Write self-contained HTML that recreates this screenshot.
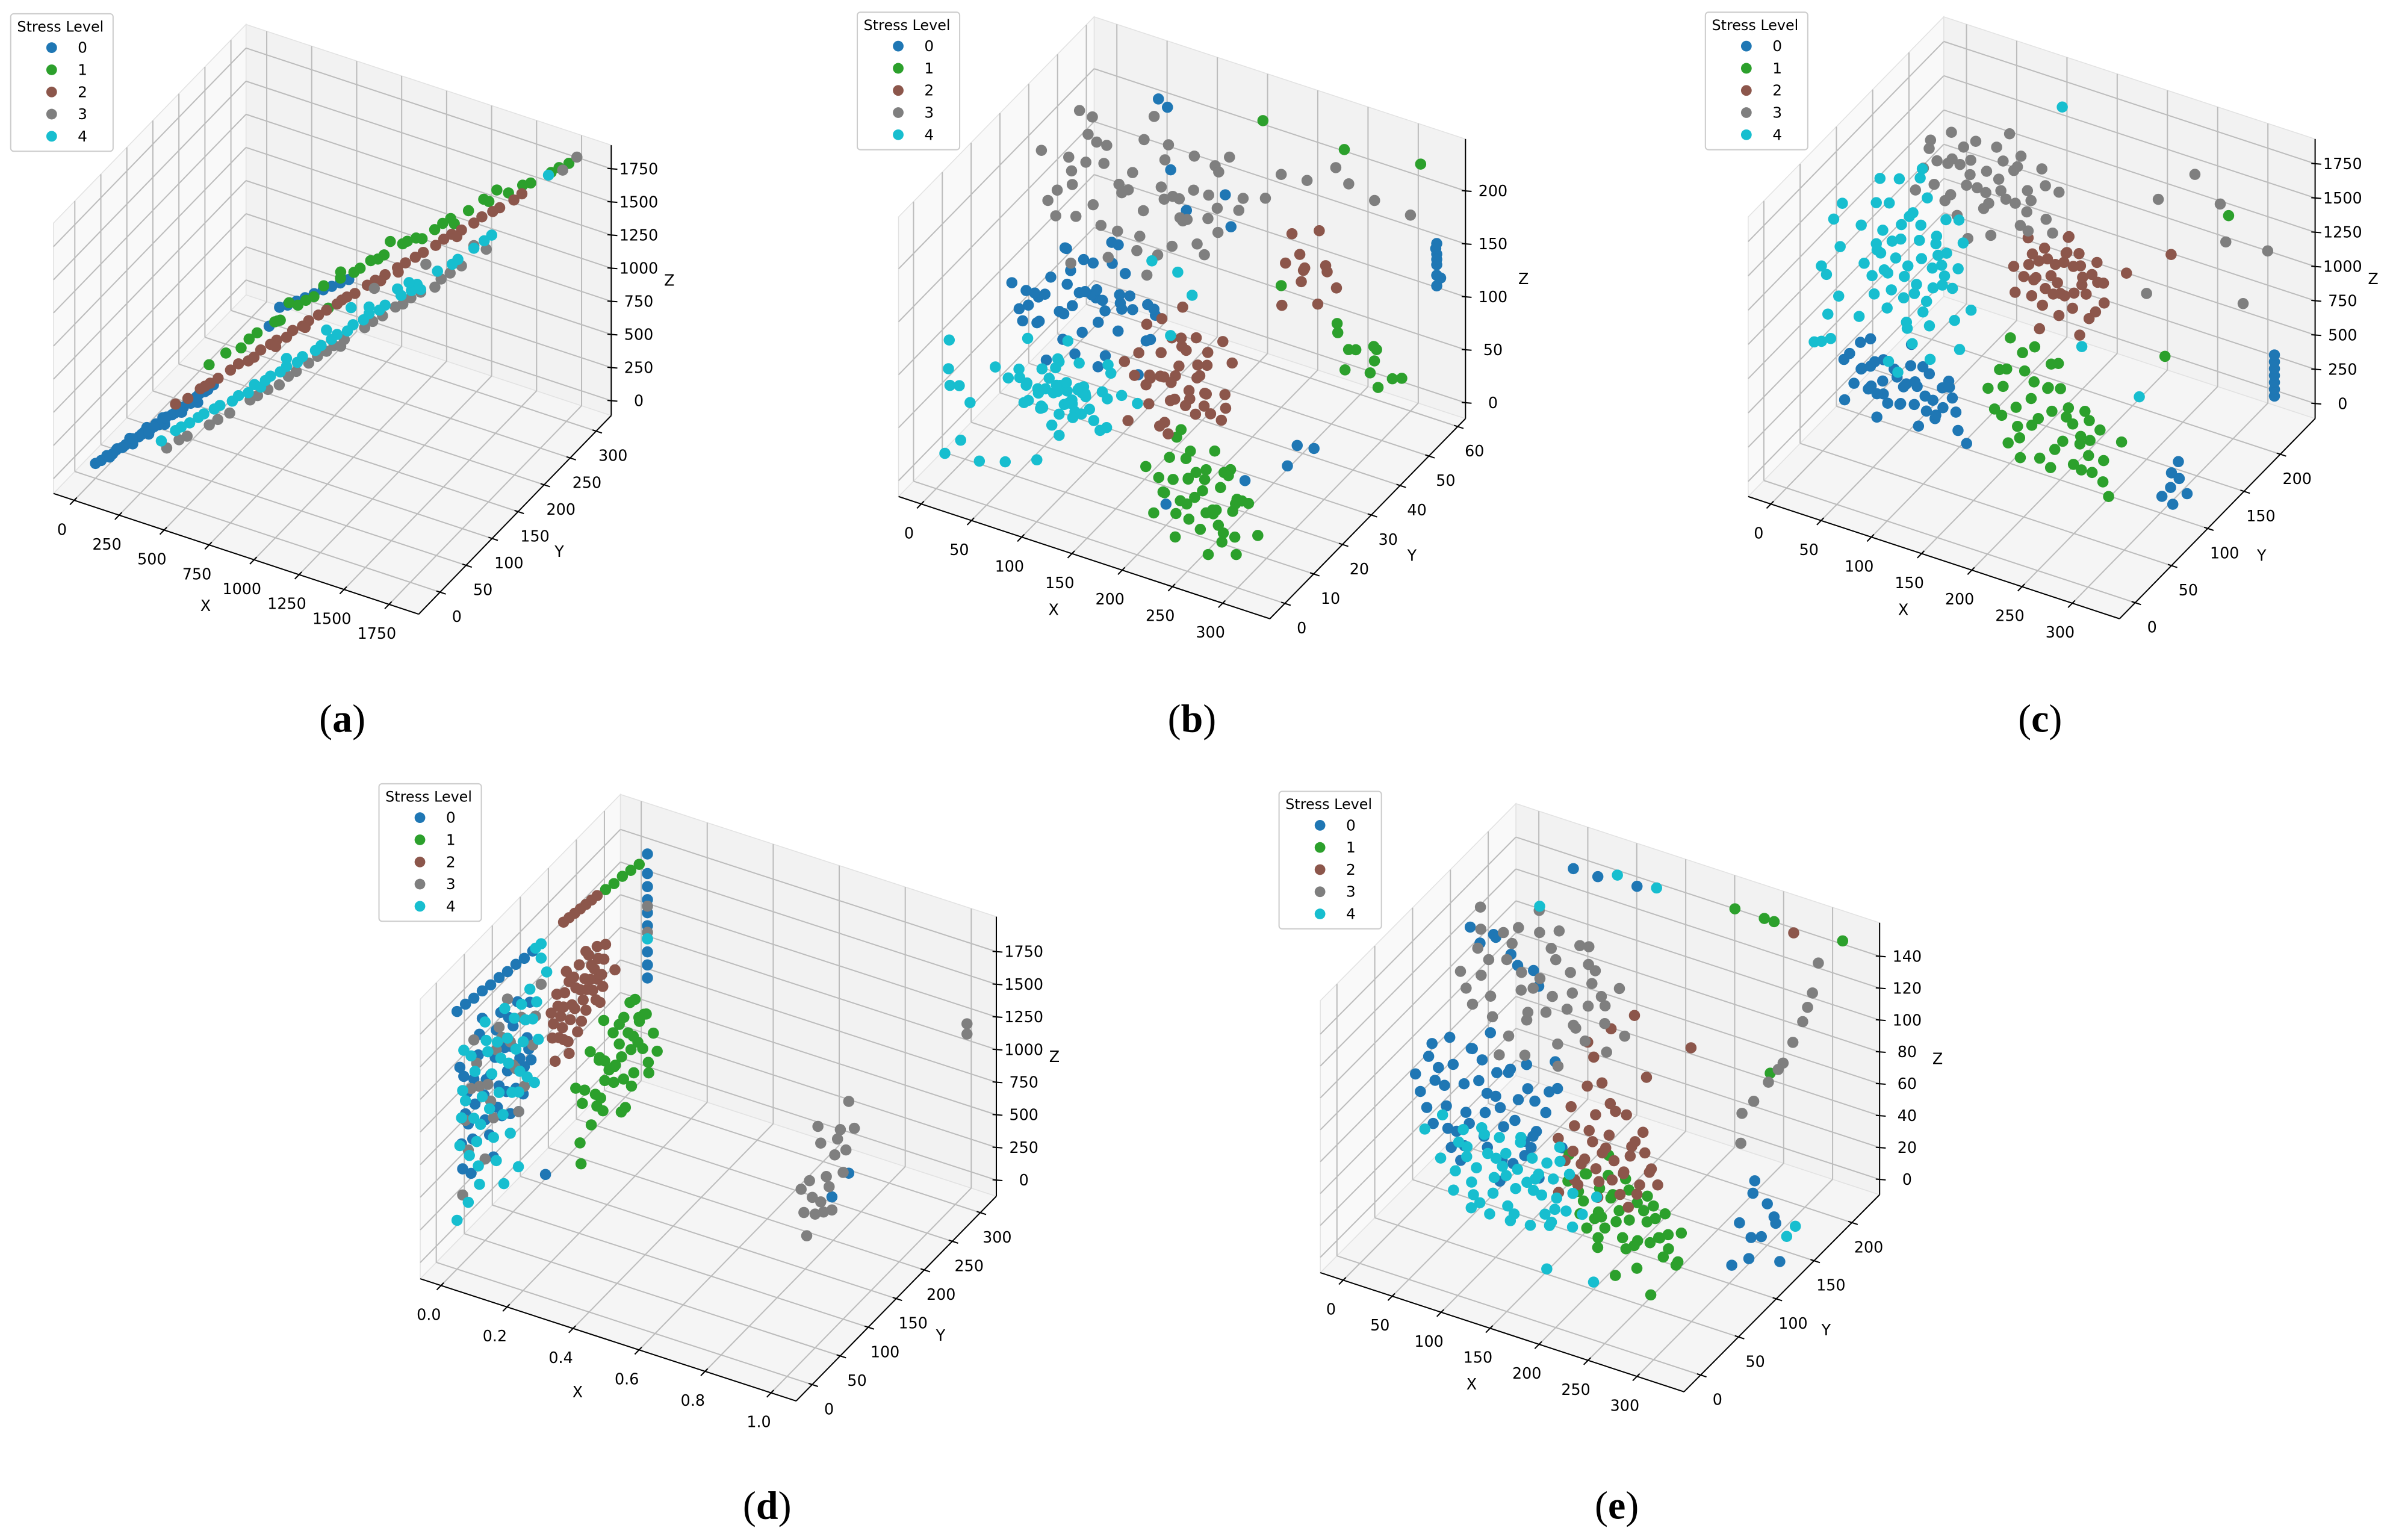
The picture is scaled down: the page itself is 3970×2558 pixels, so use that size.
<!DOCTYPE html>
<html><head><meta charset="utf-8">
<style>
html,body{margin:0;padding:0;background:#fff;}
svg{display:block;}
text{font-family:"DejaVu Sans","Liberation Sans",sans-serif;}
.cap{font-family:"Liberation Serif","DejaVu Serif",serif;}
</style></head>
<body>
<svg id="fig" xmlns="http://www.w3.org/2000/svg" width="3970" height="2558" viewBox="0 0 1564 1008" preserveAspectRatio="none">
<rect x="0" y="0" width="1564" height="1008" fill="#ffffff"/>
</svg>
<script>
// ---------- Data: panel (a) ----------
const aStress0=[[0,0,0],[20,4,15],[40,8,45],[60,12,50],[80,14,90],[100,18,95],[120,22,120],[140,24,150],[160,28,160],[180,32,190],[200,36,200],[220,40,235],[240,44,240],[260,46,280],[280,50,290],[300,54,320],[320,58,330],[340,60,370],[360,64,380],[380,68,420],[400,72,430],[430,78,470],[120,30,80],[180,40,140],[240,50,200],[300,62,270],[360,72,330],[150,14,200],[210,26,260],[270,36,320],[330,46,390],[300,250,300],[330,255,310],[360,262,325],[390,268,340],[420,275,355],[450,282,370],[480,288,385],[510,294,400],[540,300,415],[560,140,720],[50,10,30],[110,20,110],[170,30,175],[230,42,225],[290,52,300],[350,62,360],[410,74,440],[70,16,70],[130,26,140],[190,36,180],[250,48,260],[310,56,300],[370,66,400],[90,20,80],[210,40,210]];
const aStress1=[[400,80,600],[450,95,650],[520,100,700],[580,110,800],[620,130,820],[680,120,900],[720,140,950],[780,150,1000],[820,155,1080],[870,170,1100],[930,175,1150],[980,190,1200],[1040,195,1250],[1100,210,1300],[1160,215,1350],[1220,230,1380],[1280,240,1450],[1350,250,1500],[1420,265,1540],[1500,275,1600],[1580,290,1650],[1650,305,1700],[1720,315,1760],[700,130,1000],[900,160,1200],[1060,200,1340],[1300,240,1420],[1450,270,1620],[860,150,950],[1150,230,1280],[550,105,760],[650,125,860],[750,145,980],[950,180,1170],[1020,190,1230],[1120,212,1320],[1250,235,1420],[1400,262,1560],[1550,285,1640],[1680,310,1730]];
const aStress2=[[300,50,380],[380,70,450],[450,80,520],[520,95,600],[600,110,680],[660,120,740],[720,130,800],[780,140,860],[850,150,930],[920,165,1000],[990,180,1060],[1060,190,1130],[1130,205,1190],[1200,215,1260],[1270,230,1330],[1340,240,1390],[1410,255,1460],[1480,265,1520],[560,100,620],[700,125,760],[880,160,950],[1050,185,1100],[1240,225,1290],[1380,250,1420],[1530,275,1560],[340,60,400],[420,75,490],[490,90,560],[640,115,720],[760,135,830],[820,145,900],[950,170,1020],[1020,185,1090],[1100,200,1160],[1170,210,1230],[1300,235,1360],[1450,262,1490],[1560,280,1600],[900,162,980],[660,118,700],[580,104,640],[400,72,470],[1320,238,1340],[1110,198,1140],[760,140,800]];
const aStress3=[[280,40,80],[350,55,140],[430,70,200],[500,85,260],[570,100,330],[640,110,400],[710,125,470],[780,140,540],[850,150,620],[920,160,700],[990,175,760],[1060,185,840],[1130,200,900],[1200,210,980],[1270,225,1050],[1340,240,1120],[1420,260,1200],[1200,220,1150],[1000,190,1000],[800,150,560],[1750,320,1800],[1700,310,1720],[1380,250,1250],[320,50,120],[460,76,230],[600,104,360],[740,130,500],[880,154,660],[1020,180,800],[1160,205,940],[1300,232,1080],[900,160,640],[680,118,420],[1100,196,880],[1250,220,1000]];
const aStress4=[[250,40,120],[300,50,180],[350,60,220],[400,70,270],[460,80,320],[520,95,360],[580,105,430],[640,115,480],[700,125,540],[760,135,600],[820,150,650],[880,160,720],[940,170,780],[1000,180,850],[1060,190,900],[1120,200,960],[1180,210,1030],[1250,225,1100],[1320,240,1160],[1380,250,1230],[1450,260,1320],[1650,300,1700],[900,180,850],[1100,200,1000],[600,110,400],[1200,210,1000],[320,54,200],[380,66,250],[440,76,300],[500,90,330],[560,100,380],[620,112,450],[680,120,510],[740,132,560],[800,146,620],[860,156,690],[920,166,740],[980,176,810],[1040,186,870],[1160,206,990],[1300,236,1130],[1420,256,1280],[700,125,600],[850,150,780],[1000,180,900],[1150,205,1050]];
const aXTicks=[0,250,500,750,1000,1250,1500,1750];
const aYTicks=[0,50,100,150,200,250,300];
const aZTicks=[0,250,500,750,1000,1250,1500,1750];
const aXLabels=['0','250','500','750','1000','1250','1500','1750'];
const aYLabels=['0','50','100','150','200','250','300'];
const aZLabels=['0','250','500','750','1000','1250','1500','1750'];

// ---------- Data: panel (b) ----------
const bStress0=[[0,30,60],[10,32,80],[20,28,70],[30,35,90],[40,30,55],[50,38,75],[60,33,95],[70,40,65],[80,36,85],[90,42,70],[100,38,50],[-5,28,100],[15,40,105],[35,26,45],[55,44,110],[75,30,40],[25,36,120],[45,42,60],[65,28,75],[85,34,100],[5,34,50],[95,30,80],[30,44,85],[60,40,125],[20,25,95],[52,59,205],[61,59,200],[329,59,115],[329,59,125],[329,59,135],[329,59,145],[329,59,155],[330,60,120],[328,59,150],[329,59,140],[279,28,35],[290,30,30],[275,26,20],[250,20,15],[200,10,5],[150,50,140],[120,45,160],[90,50,175],[130,55,150],[5,36,70],[12,30,90],[22,42,60],[28,30,110],[38,34,75],[48,26,95],[58,36,60],[68,32,105],[78,40,80],[88,28,60],[98,34,90],[8,26,85],[18,38,50],[32,40,100],[42,32,115],[52,30,45],[62,44,85],[72,36,120],[82,30,95],[92,44,55],[102,40,75],[110,36,60],[115,30,45],[-8,34,75],[45,36,85]];
const bStress1=[[200,3,60],[210,6,30],[220,2,45],[230,8,70],[240,4,20],[250,6,55],[260,3,35],[270,8,65],[280,2,25],[290,5,50],[300,7,15],[215,10,80],[235,1,10],[255,9,5],[275,4,75],[245,7,40],[225,5,90],[265,2,0],[285,9,35],[205,4,15],[295,1,60],[240,10,50],[260,6,85],[230,3,25],[270,5,5],[270,45,100],[280,48,70],[290,42,90],[300,46,60],[310,44,80],[320,50,50],[285,40,110],[305,47,45],[315,43,95],[295,49,75],[275,46,55],[325,45,65],[156,59,217],[237,59,215],[313,59,225],[200,50,100],[210,4,50],[220,8,20],[230,2,60],[240,6,35],[250,3,70],[260,8,45],[270,2,40],[280,6,10],[235,5,30],[255,7,25],[245,2,65],[265,9,55],[225,9,40],[275,7,30],[290,3,5],[215,6,65],[285,5,50],[250,10,15],[260,1,25],[240,3,80]];
const bStress2=[[130,20,90],[140,24,60],[150,18,110],[160,22,80],[170,26,100],[180,20,70],[190,24,120],[200,18,90],[210,22,60],[220,26,100],[145,16,50],[165,28,130],[185,16,50],[205,28,110],[175,22,85],[155,24,95],[195,20,75],[215,18,80],[135,26,110],[225,22,70],[160,18,65],[190,28,95],[170,20,45],[180,24,105],[150,22,75],[210,48,130],[220,50,110],[230,46,150],[240,52,120],[250,48,140],[215,45,100],[235,51,160],[225,49,125],[245,47,105],[205,52,145],[255,50,115],[232,47,135],[155,20,85],[165,24,70],[175,18,95],[185,22,60],[195,26,90],[205,20,100],[160,26,105],[170,22,60],[180,28,80],[190,18,110],[200,24,70],[210,20,85],[150,26,120],[215,24,50],[140,20,80],[230,20,90],[185,26,75],[175,24,115],[165,20,40],[195,22,55]];
const bStress3=[[0,42,150],[10,45,120],[20,40,180],[30,44,140],[40,38,200],[50,46,160],[60,42,130],[70,40,175],[80,44,150],[90,48,190],[100,42,120],[110,46,165],[120,40,140],[130,44,185],[140,48,200],[150,42,170],[-10,40,190],[5,48,210],[25,38,100],[45,44,95],[75,46,210],[95,40,105],[115,38,200],[135,46,120],[155,44,210],[165,40,190],[35,42,230],[85,46,235],[55,40,215],[-15,44,130],[65,48,110],[105,44,220],[125,42,160],[145,40,150],[175,44,180],[185,42,200],[160,46,220],[200,50,205],[240,55,210],[270,58,180],[300,60,170],[15,42,160],[35,46,175],[55,38,145],[75,42,190],[95,46,160],[115,42,180],[135,40,170],[0,46,170],[25,44,205],[65,44,165],[85,40,125],[105,48,140],[125,46,210],[145,44,185],[45,40,215],[10,38,140],[160,42,160],[190,48,185],[220,52,200],[250,56,195]];
const bStress4=[[0,25,20],[10,28,10],[20,22,35],[30,26,0],[40,24,25],[50,28,15],[60,22,40],[70,26,5],[80,24,30],[90,28,20],[100,22,10],[110,26,35],[-10,24,30],[5,30,45],[25,20,50],[45,30,55],[65,20,0],[85,30,45],[105,24,60],[35,24,5],[55,26,30],[75,22,20],[15,26,15],[95,26,0],[120,28,25],[0,8,60],[-5,6,80],[5,10,40],[-10,8,100],[10,5,20],[-15,10,50],[0,3,10],[20,8,-5],[40,10,-5],[60,14,-8],[100,40,120],[120,42,110],[140,40,100],[130,36,70],[30,25,15],[35,27,25],[40,23,10],[45,25,20],[50,27,5],[55,23,30],[60,25,15],[65,27,25],[70,23,10],[75,25,35],[42,28,40],[52,22,0],[62,28,45],[72,22,30],[48,25,28],[58,27,8],[38,22,30],[68,28,18],[78,26,12],[82,22,40],[25,28,28],[20,25,5],[88,24,10],[35,30,35],[55,30,12],[65,20,20],[45,20,35],[85,28,25],[30,20,20],[50,24,48]];
const bXTicks=[0,50,100,150,200,250,300];
const bYTicks=[0,10,20,30,40,50,60];
const bZTicks=[0,50,100,150,200];
const bXLabels=['0','50','100','150','200','250','300'];
const bYLabels=['0','10','20','30','40','50','60'];
const bZLabels=['0','50','100','150','200'];

// ---------- Data: panel (c) ----------
const cStress0=[[0,80,100],[10,90,300],[20,85,200],[30,92,400],[40,78,250],[50,88,150],[60,82,350],[70,94,220],[80,86,450],[90,80,180],[100,90,300],[110,84,120],[-5,86,350],[15,95,500],[35,76,80],[55,96,550],[75,78,100],[95,92,400],[25,82,250],[45,90,320],[65,86,190],[85,84,280],[105,88,220],[5,80,450],[120,82,60],[305,95,50],[310,100,100],[315,105,150],[320,98,200],[325,102,80],[312,108,250],[318,92,40],[308,104,180],[326,221,150],[326,221,200],[326,221,250],[326,221,300],[326,221,350],[326,221,400],[326,221,450],[5,86,200],[15,82,350],[25,90,150],[35,84,300],[45,86,400],[55,80,200],[65,90,300],[75,84,500],[85,88,150],[95,84,250],[10,88,500],[30,80,450],[50,92,250],[70,80,400],[90,90,350],[20,88,350],[40,84,150],[60,88,450],[80,82,200],[100,86,400]];
const cStress1=[[150,70,600],[160,75,400],[170,68,800],[180,72,300],[190,78,700],[200,70,500],[210,74,900],[220,76,350],[230,70,650],[240,74,200],[250,72,450],[260,76,150],[165,80,950],[185,66,200],[205,80,100],[225,66,800],[245,78,550],[265,70,350],[175,74,500],[195,72,1000],[215,68,600],[235,80,400],[255,68,250],[160,72,750],[280,74,500],[270,70,100],[310,180,1650],[290,120,900],[155,72,450],[165,70,650],[175,76,350],[185,72,800],[195,68,450],[205,76,700],[215,72,300],[225,74,550],[235,70,250],[245,72,650],[170,70,250],[190,74,600],[210,70,750],[230,76,500],[250,70,350],[180,76,900],[200,72,200],[220,70,950],[240,72,400],[260,72,550]];
const cStress2=[[130,135,900],[140,140,1100],[150,145,800],[160,138,1200],[170,142,950],[180,136,1300],[190,144,1050],[200,140,850],[210,138,1150],[135,146,1250],[155,134,700],[175,146,1350],[195,134,750],[145,140,1000],[165,142,1150],[185,138,900],[205,144,1250],[150,136,1050],[170,140,800],[190,142,1200],[215,140,1000],[125,140,1050],[230,150,1200],[260,170,1300],[180,140,1400],[135,140,1000],[145,138,1200],[155,142,950],[165,136,1100],[175,144,1250],[185,140,1000],[195,138,1150],[205,142,900],[140,144,850],[160,134,1300],[180,146,1150],[200,136,1050],[150,140,1150],[170,138,1050],[190,140,1300],[210,146,1100],[160,146,900],[180,134,1000],[200,144,1150],[175,140,1200]];
const cStress3=[[20,150,1300],[30,155,1600],[40,148,1400],[50,158,1750],[60,152,1200],[70,156,1500],[80,150,1800],[90,154,1350],[100,160,1650],[110,150,1450],[120,156,1250],[130,152,1550],[140,158,1700],[150,150,1400],[160,154,1600],[45,160,1500],[75,146,1100],[105,162,1850],[135,146,1300],[85,158,1550],[95,150,1150],[65,154,1700],[115,156,1400],[125,150,1800],[55,150,1350],[262,200,1727],[300,190,1380],[280,210,1500],[240,180,1600],[320,220,1200],[310,200,900],[250,150,1100],[25,154,1450],[35,150,1700],[45,156,1250],[55,152,1600],[65,158,1400],[75,150,1650],[85,154,1300],[95,158,1750],[105,150,1500],[115,154,1650],[125,158,1350],[135,150,1500],[145,156,1600],[155,152,1300],[60,156,1550],[80,152,1450],[100,154,1550],[120,152,1700],[40,152,1550],[90,150,1450]];
const cStress4=[[0,100,600],[10,104,900],[20,96,1200],[30,100,1500],[40,106,800],[50,98,1100],[60,102,1400],[70,100,700],[80,104,1000],[90,96,1300],[100,100,600],[110,102,900],[15,108,1600],[35,92,400],[55,108,1700],[75,94,500],[95,106,1500],[45,100,1000],[65,96,1200],[25,104,700],[85,100,1100],[105,98,1400],[5,96,1300],[60,104,1800],[40,98,300],[50,104,500],[70,96,900],[30,98,1000],[20,102,1100],[80,98,1250],[0,55,1150],[5,50,900],[10,60,1350],[-5,45,700],[0,65,1500],[15,40,800],[5,70,1600],[10,58,1000],[0,48,1250],[-10,62,600],[130,200,1900],[200,130,700],[250,140,400],[15,100,800],[25,98,1300],[35,102,1100],[45,96,1400],[55,100,900],[65,104,1600],[75,98,1000],[85,102,1500],[95,100,800],[20,96,1500],[30,104,1200],[40,100,1700],[50,96,700],[60,100,1300],[70,104,1100],[80,96,1400],[90,104,1000],[100,98,1200],[45,104,600],[55,98,1500],[35,96,900],[25,100,1000],[65,98,800],[75,102,1300],[85,96,1200],[15,104,1100],[5,100,1000],[60,96,1000],[40,102,1250],[50,100,1450]];
const cXTicks=[0,50,100,150,200,250,300];
const cYTicks=[0,50,100,150,200];
const cZTicks=[0,250,500,750,1000,1250,1500,1750];
const cXLabels=['0','50','100','150','200','250','300'];
const cYLabels=['0','50','100','150','200'];
const cZLabels=['0','250','500','750','1000','1250','1500','1750'];

// ---------- Data: panel (d) ----------
const dStress0=[[0,10,600],[0,20,900],[0,30,1200],[0,40,1500],[0,50,800],[0,60,1100],[0,70,1400],[0,80,700],[0,90,1000],[0,100,1300],[0,110,600],[0,120,900],[0,5,1400],[0,25,500],[0,45,1600],[0,65,450],[0,85,1200],[0,105,800],[0,125,1100],[0,15,1000],[0,35,700],[0,55,1300],[0,75,950],[0,95,650],[0,130,1350],[0,0,1850],[0,15,1840],[0,30,1820],[0,45,1810],[0,60,1790],[0,75,1780],[0,90,1760],[0,105,1750],[0,120,1730],[0,135,1720],[0.025,325,700],[0.025,325,800],[0.025,325,900],[0.025,325,1000],[0.025,325,1100],[0.025,325,1300],[0.025,325,1400],[0.025,325,1500],[0.025,325,1650],[0.025,325,1200],[1,80,900],[1,110,950],[0.2,40,590],[0,8,800],[0,18,1150],[0,28,750],[0,38,1350],[0,48,1000],[0,58,650],[0,68,1200],[0,78,1500],[0,88,850],[0,98,1150],[0,108,1450],[0,118,700],[0,128,1000],[0,12,1300],[0,32,1000],[0,52,1100],[0,72,800],[0,92,1400],[0,112,1000],[0,132,900]];
const dStress1=[[0.02,200,400],[0.03,220,600],[0.04,240,300],[0.05,260,500],[0.06,280,200],[0.03,300,650],[0.05,210,100],[0.07,230,450],[0.02,250,700],[0.04,270,350],[0.06,290,550],[0.08,310,250],[0.03,320,450],[0.05,190,50],[0.07,215,300],[0.02,235,200],[0.04,255,600],[0.06,275,400],[0.08,295,150],[0.03,305,300],[0.09,240,100],[0.05,225,550],[0.04,285,700],[0.06,265,0],[0.07,180,-50],[0,265,1620],[0,280,1600],[0,295,1590],[0,310,1570],[0,325,1550],[0.03,210,350],[0.04,230,500],[0.05,250,250],[0.06,270,550],[0.07,290,350],[0.04,310,500],[0.05,220,200],[0.06,245,400],[0.03,265,300],[0.05,285,450],[0.07,300,200],[0.04,200,300],[0.06,225,150],[0.05,260,650],[0.03,280,600],[0.08,250,300],[0.06,315,350],[0.04,240,450],[0.07,270,150],[0.05,295,550]];
const dStress2=[[0,170,900],[0,180,1100],[0,190,800],[0,200,1200],[0,210,950],[0,220,1050],[0,230,850],[0,240,1150],[0,250,1000],[0,260,900],[0,175,700],[0,195,1300],[0,215,750],[0,235,1250],[0,255,800],[0,205,1000],[0,225,950],[0,245,1100],[0,185,1000],[0,265,1200],[0,200,650],[0,230,1300],[0.02,270,1000],[0,190,1050],[0,250,1250],[0,190,1700],[0,200,1690],[0,210,1680],[0,220,1670],[0,230,1660],[0,240,1650],[0,250,1640],[0,172,1000],[0,182,850],[0,192,1150],[0,202,900],[0,212,1100],[0,222,800],[0,232,1000],[0,242,950],[0,252,1150],[0,178,1200],[0,198,750],[0,218,1250],[0,238,1050],[0,258,1000],[0,208,1200],[0,228,1100],[0,188,900],[0,248,850],[0,168,1100],[0,262,1100]];
const dStress3=[[0,20,700],[0,40,1100],[0,60,900],[0,80,1300],[0,100,1000],[0,120,750],[0,140,1200],[0,30,1500],[0,50,500],[0,90,1550],[0,110,600],[0,70,1250],[0,150,1400],[0,10,400],[1,30,1000],[1,40,1200],[1,50,900],[1,60,1400],[1,70,1100],[1,80,800],[1,90,1300],[1,100,1000],[1,110,1500],[1,45,1050],[1,65,850],[1,85,1200],[1,55,1550],[1,75,1000],[1,95,1350],[1,35,800],[1,105,1150],[1,60,950],[1,120,1250],[1,25,1200],[1,321,1168],[1,321,1090],[0.025,325,1250],[0.025,325,1050],[0,15,950],[0,35,1300],[0,55,1050],[0,75,1400],[0,95,1200],[0,115,1300],[0,135,1000],[0,25,1150],[0,65,750],[0,105,950]];
const dStress4=[[0,5,800],[0,15,1100],[0,25,1400],[0,35,700],[0,45,1000],[0,55,1300],[0,65,600],[0,75,900],[0,85,1500],[0,95,500],[0,105,1100],[0,115,1400],[0,125,800],[0,135,1200],[0,145,1000],[0,10,1200],[0,30,900],[0,50,1550],[0,70,400],[0,90,1250],[0,110,750],[0,130,1450],[0,20,300],[0,40,350],[0.04,60,300],[0.05,80,350],[0,0,250],[0,150,1600],[0,160,1450],[0.025,325,1000],[0,140,1720],[0,150,1710],[0,8,1000],[0,22,650],[0,32,1250],[0,42,800],[0,52,1400],[0,62,1100],[0,72,1300],[0,82,700],[0,92,1050],[0,102,1350],[0,112,900],[0,122,1250],[0,142,1300],[0,12,1500],[0,38,500],[0,58,850],[0,78,1150],[0,98,800],[0,118,1100],[0,138,700]];
const dXTicks=[0,0.2,0.4,0.6,0.8,1.0];
const dYTicks=[0,50,100,150,200,250,300];
const dZTicks=[0,250,500,750,1000,1250,1500,1750];
const dXLabels=['0.0','0.2','0.4','0.6','0.8','1.0'];
const dYLabels=['0','50','100','150','200','250','300'];
const dZLabels=['0','250','500','750','1000','1250','1500','1750'];

// ---------- Data: panel (e) ----------
const eStress0=[[0,80,60],[10,84,40],[20,78,80],[30,82,30],[40,86,70],[50,80,50],[60,84,90],[70,78,40],[80,82,65],[90,86,30],[100,80,75],[110,84,45],[120,78,60],[130,82,85],[140,86,50],[15,76,95],[35,88,20],[55,76,100],[75,88,15],[95,76,95],[115,88,25],[25,82,55],[45,80,35],[65,84,70],[85,80,55],[105,82,40],[-5,80,70],[140,80,90],[130,90,100],[30,120,140],[40,125,145],[50,115,150],[60,122,138],[70,118,135],[80,126,130],[20,120,148],[90,120,125],[45,224,140],[70,224,140],[110,224,142],[320,100,10],[325,110,20],[330,90,30],[335,105,45],[328,95,55],[340,115,5],[322,85,40],[332,120,25],[326,100,60],[318,80,15],[338,110,35],[5,82,50],[15,80,70],[25,84,40],[35,78,85],[45,82,55],[55,86,75],[65,80,45],[75,84,85],[85,78,35],[95,82,60],[105,86,80],[115,80,55],[125,84,70],[20,86,65],[40,76,45],[60,88,55],[80,76,75],[100,88,45],[120,76,80],[30,80,100],[50,84,95],[70,82,110],[90,80,90],[110,78,100],[10,78,85]];
const eStress1=[[170,55,50],[180,58,30],[190,52,60],[200,56,20],[210,60,45],[220,54,35],[230,58,55],[240,52,25],[250,56,40],[260,60,30],[270,54,50],[280,58,20],[175,50,70],[195,62,10],[215,50,65],[235,62,5],[255,50,60],[275,62,15],[185,56,40],[205,54,35],[225,56,25],[245,58,45],[265,52,35],[285,56,40],[230,40,10],[200,70,65],[260,48,0],[210,224,148],[240,224,148],[250,224,148],[320,224,150],[280,180,80],[180,56,45],[190,54,25],[200,58,50],[210,52,30],[220,58,40],[230,54,20],[240,56,50],[250,60,25],[260,54,45],[270,58,35],[185,60,55],[205,50,40],[225,60,60],[245,50,30],[265,58,20],[195,58,30],[215,56,50],[235,52,40],[255,58,50],[275,52,30]];
const eStress2=[[130,94,50],[140,98,70],[150,90,30],[160,96,60],[170,92,40],[180,98,80],[190,90,50],[200,96,20],[210,92,65],[220,98,45],[135,88,20],[155,100,85],[175,88,25],[195,100,75],[215,88,35],[145,94,45],[165,94,55],[185,94,35],[205,94,60],[225,94,50],[140,120,100],[160,125,110],[150,115,95],[180,130,120],[200,120,90],[230,140,105],[270,224,145],[145,96,60],[155,92,40],[165,98,70],[175,94,50],[185,90,65],[195,96,40],[205,92,55],[215,96,70],[150,94,25],[170,96,30],[190,92,80],[210,98,35],[160,90,45],[180,92,55],[200,90,45],[220,92,60],[170,100,90],[190,98,25],[140,90,40],[230,96,40]];
const eStress3=[[0,133,110],[10,136,90],[20,130,130],[30,134,100],[40,138,140],[50,132,80],[60,136,120],[70,130,95],[80,134,150],[90,138,110],[100,132,85],[110,136,130],[120,130,100],[130,134,140],[140,138,120],[150,132,90],[15,140,150],[45,126,70],[75,140,160],[105,126,75],[135,128,155],[25,128,115],[55,142,105],[85,128,125],[115,142,145],[65,134,70],[95,136,135],[125,140,110],[160,136,130],[170,130,105],[306,210,140],[300,210,120],[290,210,100],[280,210,85],[270,210,70],[255,210,55],[240,210,40],[228,210,30],[295,210,110],[265,210,65],[250,180,30],[5,134,100],[25,138,120],[35,130,90],[45,136,125],[55,130,140],[65,138,95],[75,132,115],[85,136,100],[95,130,145],[105,138,105],[115,132,120],[125,136,90],[135,132,130],[145,136,105],[150,130,120],[20,134,140],[60,132,150],[100,134,155],[140,130,140],[110,140,95]];
const eStress4=[[30,68,30],[40,72,10],[50,66,45],[60,70,20],[70,74,50],[80,68,5],[90,72,35],[100,66,15],[110,70,55],[120,74,25],[130,68,40],[140,72,10],[150,66,30],[160,70,45],[170,74,20],[35,64,60],[55,76,0],[75,64,60],[95,76,0],[115,64,62],[135,76,5],[155,64,55],[65,70,30],[85,70,40],[105,70,25],[125,70,35],[145,70,20],[20,60,50],[180,80,30],[160,40,0],[200,50,-5],[320,150,0],[325,155,5],[90,224,145],[130,224,145],[60,160,150],[45,68,25],[55,70,35],[65,66,15],[75,72,40],[85,66,20],[95,70,45],[105,68,10],[115,72,30],[125,66,50],[135,70,15],[145,68,40],[155,72,20],[165,68,35],[60,64,45],[80,74,25],[100,64,35],[120,70,5],[140,66,50],[160,74,10],[90,68,55],[110,66,40],[130,72,25],[70,68,10],[50,72,50],[150,70,60]];
const eXTicks=[0,50,100,150,200,250,300];
const eYTicks=[0,50,100,150,200];
const eZTicks=[0,20,40,60,80,100,120,140];
const eXLabels=['0','50','100','150','200','250','300'];
const eYLabels=['0','50','100','150','200'];
const eZLabels=['0','20','40','60','80','100','120','140'];

const classNames=['0','1','2','3','4'];
const classColors=['#1f77b4','#2ca02c','#8c564b','#7f7f7f','#17becf'];

// ---------- Layout (geometry, not data) ----------
const panels=[
 {id:'a',O:[35,323],ex:[239,79],ey:[126,-130],ez:[0,-177],xr:[-115,1915],yr:[-41,329],zr:[-112,1928],
  xt:aXTicks,yt:aYTicks,zt:aZTicks,xl:aXLabels,yl:aYLabels,zl:aZLabels,series:[aStress0,aStress1,aStress2,aStress3,aStress4],leg:[7,9],cap:[224,479]},
 {id:'b',O:[588,325],ex:[243,80],ey:[128,-131],ez:[0,-183],xr:[-22.6,347],yr:[-5.2,62.7],zr:[-15,249],
  xt:bXTicks,yt:bYTicks,zt:bZTicks,xl:bXLabels,yl:bYLabels,zl:bZLabels,series:[bStress0,bStress1,bStress2,bStress3,bStress4],leg:[561,8],cap:[780,479]},
 {id:'c',O:[1144,325],ex:[243,80],ey:[128,-131],ez:[0,-183],xr:[-22.6,347],yr:[-21.6,248],zr:[-110,1930],
  xt:cXTicks,yt:cYTicks,zt:cZTicks,xl:cXLabels,yl:cYLabels,zl:cZLabels,series:[cStress0,cStress1,cStress2,cStress3,cStress4],leg:[1116,8],cap:[1335,479]},
 {id:'d',O:[275,837],ex:[246,80],ey:[131,-134],ez:[0,-183],xr:[-0.063,1.076],yr:[-28.6,328.6],zr:[-124,2018],
  xt:dXTicks,yt:dYTicks,zt:dZTicks,xl:dXLabels,yl:dYLabels,zl:dZLabels,series:[dStress0,dStress1,dStress2,dStress3,dStress4],leg:[248,513],cap:[502,994]},
 {id:'e',O:[864,833],ex:[238,78],ey:[128,-129],ez:[0,-178],xr:[-23.4,348],yr:[-22,236.6],zr:[-9.6,161],
  xt:eXTicks,yt:eYTicks,zt:eZTicks,xl:eXLabels,yl:eYLabels,zl:eZLabels,series:[eStress0,eStress1,eStress2,eStress3,eStress4],leg:[837,518],cap:[1058,994]}
];

const NS='http://www.w3.org/2000/svg';
const svg=document.getElementById('fig');
function mk(tag,attrs,parent){const el=document.createElementNS(NS,tag);for(const k in attrs)el.setAttribute(k,attrs[k]);(parent||svg).appendChild(el);return el;}
function proj(p,x,y,z){
  const fx=(x-p.xr[0])/(p.xr[1]-p.xr[0]);
  const fy=(y-p.yr[0])/(p.yr[1]-p.yr[0]);
  const fz=(z-p.zr[0])/(p.zr[1]-p.zr[0]);
  return [p.O[0]+fx*p.ex[0]+fy*p.ey[0]+fz*p.ez[0], p.O[1]+fx*p.ex[1]+fy*p.ey[1]+fz*p.ez[1]];
}
function poly(p,pts,fill,parent,name){
  const s=pts.map(q=>proj(p,q[0],q[1],q[2]).map(v=>v.toFixed(2)).join(',')).join(' ');
  const el=mk('polygon',{points:s,fill:fill,stroke:'#e2e2e2','stroke-width':0.6},parent);
  
  
}
function seg(p,a,b,stroke,w,parent,name){
  const A=proj(p,a[0],a[1],a[2]),B=proj(p,b[0],b[1],b[2]);
  const el=mk('line',{x1:A[0].toFixed(2),y1:A[1].toFixed(2),x2:B[0].toFixed(2),y2:B[1].toFixed(2),stroke:stroke,'stroke-width':w},parent);
  
  
}
function norm(v){const l=Math.hypot(v[0],v[1]);return [v[0]/l,v[1]/l];}

panels.forEach(p=>{
  const g=mk('g',{});
  
  
  const [x0,x1]=p.xr,[y0,y1]=p.yr,[z0,z1]=p.zr;
  poly(p,[[x0,y0,z0],[x1,y0,z0],[x1,y1,z0],[x0,y1,z0]],'#f5f5f5',g,'floor-pane');
  poly(p,[[x0,y1,z0],[x1,y1,z0],[x1,y1,z1],[x0,y1,z1]],'#f2f2f2',g,'back-pane');
  poly(p,[[x0,y0,z0],[x0,y1,z0],[x0,y1,z1],[x0,y0,z1]],'#f9f9f9',g,'left-pane');
  const gc='#bcbcbc',gw=0.8;
  p.xt.forEach(t=>{seg(p,[t,y0,z0],[t,y1,z0],gc,gw,g,'x-gridline');seg(p,[t,y1,z0],[t,y1,z1],gc,gw,g,'x-gridline');});
  p.yt.forEach(t=>{seg(p,[x0,t,z0],[x1,t,z0],gc,gw,g,'y-gridline');seg(p,[x0,t,z0],[x0,t,z1],gc,gw,g,'y-gridline');});
  p.zt.forEach(t=>{seg(p,[x0,y1,t],[x1,y1,t],gc,gw,g,'z-gridline');seg(p,[x0,y0,t],[x0,y1,t],gc,gw,g,'z-gridline');});
  seg(p,[x0,y0,z0],[x1,y0,z0],'#000',0.8,g,'x-axis-line');
  seg(p,[x1,y0,z0],[x1,y1,z0],'#000',0.8,g,'y-axis-line');
  seg(p,[x1,y1,z0],[x1,y1,z1],'#000',0.8,g,'z-axis-line');
  const xo=norm([-p.ey[0],-p.ey[1]]), yo=norm(p.ex), zo=[1,0.08];
  function tick(pt,o,name){
    const l=mk('line',{x1:(pt[0]-o[0]*2.5).toFixed(2),y1:(pt[1]-o[1]*2.5).toFixed(2),x2:(pt[0]+o[0]*4).toFixed(2),y2:(pt[1]+o[1]*4).toFixed(2),stroke:'#000','stroke-width':0.8},g);
    
    
  }
  function label(x,y,txt,anchor,name){
    const t=mk('text',{x:x.toFixed(2),y:y.toFixed(2),'font-size':10,'text-anchor':anchor,'dominant-baseline':'central',fill:'#000'},g);
    t.textContent=txt;
    
    
  }
  p.xt.forEach((t,i)=>{const q=proj(p,t,y0,z0);tick(q,xo,'x-tick');label(q[0]-8,q[1]+19,p.xl[i],'middle','x-tick-label');});
  p.yt.forEach((t,i)=>{const q=proj(p,x1,t,z0);tick(q,yo,'y-tick');label(q[0]+11,q[1]+16,p.yl[i],'middle','y-tick-label');});
  p.zt.forEach((t,i)=>{const q=proj(p,x1,y1,t);tick(q,zo,'z-tick');label(q[0]+18,q[1],p.zl[i],'middle','z-tick-label');});
  const xm=proj(p,(x0+x1)/2,y0,z0); label(xm[0]-20,xm[1]+34,'X','middle','x-axis-title');
  const ym=proj(p,x1,(y0+y1)/2,z0); label(ym[0]+29,ym[1]+24,'Y','middle','y-axis-title');
  const zm=proj(p,x1,y1,(z0+z1)/2); label(zm[0]+38,zm[1],'Z','middle','z-axis-title');
  p.series.forEach((ser,ci)=>{
    const sg=mk('g',{},g);
    
    
    ser.forEach(d=>{
      const q=proj(p,d[0],d[1],d[2]);
      const c=mk('circle',{cx:q[0].toFixed(2),cy:q[1].toFixed(2),r:3.5,fill:classColors[ci],stroke:classColors[ci],'stroke-width':0.3},sg);
      
      
    });
  });
  const [lx,ly]=p.leg;
  const lg=mk('g',{},g);
  
  
  const box=mk('rect',{x:lx,y:ly,width:67,height:90,rx:2,fill:'#ffffff','fill-opacity':0.85,stroke:'#cccccc','stroke-width':0.8},lg);
  
  
  const tt=mk('text',{x:lx+4.2,y:ly+8.5,'font-size':9.4,'dominant-baseline':'central',fill:'#000'},lg);
  tt.textContent='Stress Level';
  
  
  classNames.forEach((n,i)=>{
    const cy=ly+22.2+i*14.5;
    const m=mk('circle',{cx:lx+26.8,cy:cy,r:3.5,fill:classColors[i]},lg);
    
    
    const t=mk('text',{x:lx+47,y:cy,'font-size':9.8,'text-anchor':'middle','dominant-baseline':'central',fill:'#000'},lg);
    t.textContent=n;
    
    
  });
  const cap=mk('text',{x:p.cap[0],y:p.cap[1],'font-size':26,'text-anchor':'middle',fill:'#000',class:'cap'},g);
  
  
  cap.appendChild(document.createTextNode('('));
  const ts=document.createElementNS(NS,'tspan');
  ts.setAttribute('font-weight','bold');
  ts.textContent=p.id;
  cap.appendChild(ts);
  cap.appendChild(document.createTextNode(')'));
});
</script>
</body></html>
